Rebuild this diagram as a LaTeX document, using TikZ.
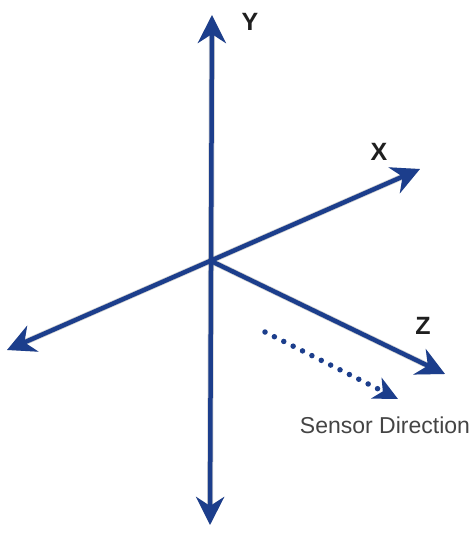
\documentclass[tikz,border=0pt]{standalone}
\usepackage{fontspec}
\setmainfont{Liberation Sans}
\usetikzlibrary{arrows.meta}
\definecolor{axisblue}{RGB}{28,62,140}
\definecolor{labelgray}{RGB}{68,68,68}
\begin{document}
\begin{tikzpicture}[x=1pt,y=-1pt,
  bigtip/.tip={Stealth[length=28pt,width=28pt,inset=9pt]},
  smalltip/.tip={Stealth[length=24pt,width=23pt,inset=7pt]},
  axisline/.style={draw=axisblue,line width=4.5pt},
  dotline/.style={draw=axisblue,line width=5.5pt,line cap=round,dash pattern=on 0pt off 10.5pt},
  shadowline/.style={draw=black,opacity=0.18,line width=6pt},
  axislabel/.style={font=\fontsize{25}{25}\selectfont\bfseries,text=black!88,inner sep=0pt},
  captionlabel/.style={font=\fontsize{23}{23}\selectfont,text=labelgray,inner sep=0pt}]
\useasboundingbox (0,0) rectangle (474,533);
\coordinate (O) at (211,261);
\coordinate (Ytop) at (212,15);
\coordinate (Ybot) at (210,525);
\coordinate (Xpos) at (420,169);
\coordinate (Xneg) at (7,350);
\coordinate (Zpos) at (445,374);
\coordinate (S1) at (265,332);
\coordinate (S2) at (398,399);
% shadows
\begin{scope}[shift={(3,3)}]
  \draw[shadowline,bigtip-bigtip] (Ytop) -- (Ybot);
  \draw[shadowline,bigtip-bigtip] (Xneg) -- (Xpos);
  \draw[shadowline,-bigtip] (O) -- (Zpos);
\end{scope}
% axes
\draw[axisline,bigtip-bigtip] (Ytop) -- (Ybot);
\draw[axisline,bigtip-bigtip] (Xneg) -- (Xpos);
\draw[axisline,-bigtip] (O) -- (Zpos);
% sensor direction
\draw[dotline,-smalltip] (S1) -- (S2);
% labels
\node[axislabel] (ylab) at (250,22) {Y};
\node[axislabel] (xlab) at (379,152) {X};
\node[axislabel] (zlab) at (423,326) {Z};
\node[captionlabel] (slab) at (385,425) {Sensor Direction};
\end{tikzpicture}
\end{document}
